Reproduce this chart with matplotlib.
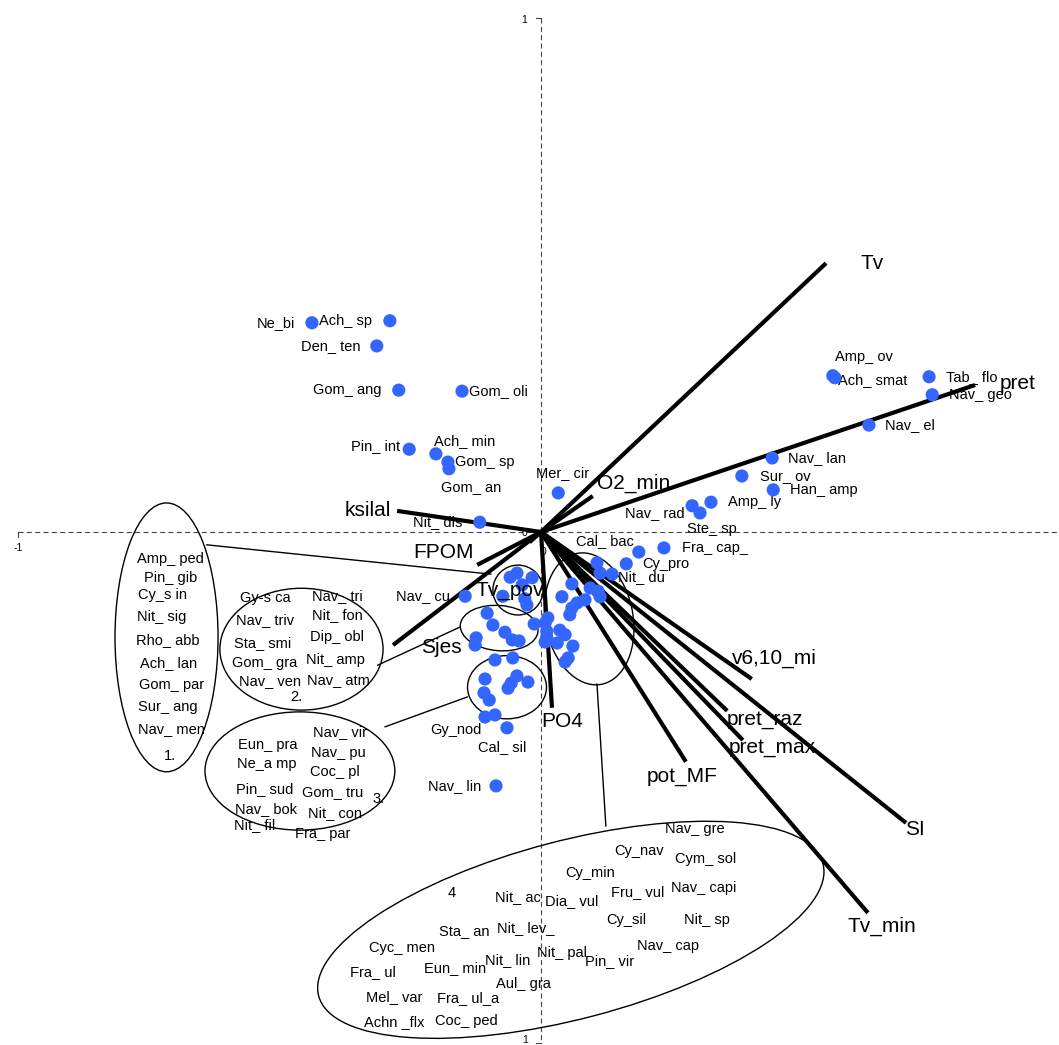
import matplotlib
matplotlib.use("Agg")
import matplotlib.pyplot as plt
from matplotlib.patches import Ellipse

plt.rcParams["font.family"] = ["Liberation Sans", "DejaVu Sans"]

# ---- environmental variables (arrow tips, CCA axis units) ----
env_names = ["Tv", "pret", "O2_min", "ksilal", "FPOM", "Tv_pov", "Sjes", "PO4",
             "pot_MF", "pret_raz", "pret_max", "v6,10_mi", "SI", "Tv_min"]
env_x = [0.545, 0.830, 0.099, -0.275, -0.122, -0.022, -0.283, 0.021,
         0.277, 0.356, 0.386, 0.403, 0.698, 0.625]
env_y = [0.523, 0.286, 0.070, 0.041, -0.064, -0.020, -0.220, -0.342,
         -0.447, -0.348, -0.405, -0.286, -0.566, -0.741]

# ---- labelled species scores ----
sp_names = ["Ne_bi", "Ach_ sp", "Den_ ten", "Gom_ ang", "Gom_ oli", "Pin_ int",
            "Ach_ min", "Gom_ sp", "Gom_ an", "Mer_ cir", "Nit_ dis", "Amp_ ov",
            "Ach_ smat", "Tab_ flo", "Nav_ geo", "Nav_ el", "Nav_ lan", "Sur_ ov",
            "Han_ amp", "Amp_ ly", "Nav_ rad", "Ste_ sp", "Fra_ cap_", "Cal_ bac",
            "Cy_pro", "Nit_ du", "Nav_ cu", "Gy_nod", "Cal_ sil", "Nav_ lin"]
sp_x = [-0.438, -0.289, -0.314, -0.272, -0.151, -0.252, -0.201, -0.178, -0.176,
        0.033, -0.117, 0.558, 0.562, 0.742, 0.748, 0.627, 0.442, 0.384, 0.444,
        0.325, 0.289, 0.304, 0.235, 0.187, 0.163, 0.136, -0.145, -0.107, -0.065,
        -0.086]
sp_y = [0.407, 0.411, 0.362, 0.276, 0.274, 0.161, 0.152, 0.136, 0.123, 0.076,
        0.019, 0.304, 0.300, 0.302, 0.267, 0.208, 0.144, 0.109, 0.082, 0.058,
        0.051, 0.037, -0.031, -0.039, -0.062, -0.082, -0.125, -0.360, -0.381,
        -0.494]

# ---- species scores in the central cluster (names listed in the ellipses) ----
cl_x = [-0.059, -0.046, -0.017, -0.036, -0.073, -0.031, -0.027,
        0.107, 0.113, 0.059, 0.094, 0.109, 0.113, 0.040, 0.084, 0.069, 0.059,
        0.055, 0.013, 0.008, -0.013, 0.011, 0.011, 0.008, 0.036, 0.046, 0.031,
        0.061, 0.052, 0.046,
        -0.103, -0.092, -0.069, -0.055, -0.042, -0.124, -0.126,
        -0.088, -0.054, -0.107, -0.046, -0.057, -0.063, -0.025, -0.109, -0.099,
        -0.088]
cl_y = [-0.088, -0.080, -0.089, -0.103, -0.125, -0.130, -0.142,
        -0.060, -0.080, -0.101, -0.109, -0.115, -0.126, -0.126, -0.132, -0.138,
        -0.148, -0.161, -0.167, -0.177, -0.179, -0.193, -0.204, -0.214, -0.191,
        -0.200, -0.216, -0.222, -0.245, -0.253,
        -0.158, -0.181, -0.195, -0.210, -0.212, -0.206, -0.220,
        -0.249, -0.245, -0.286, -0.280, -0.294, -0.304, -0.292, -0.313, -0.327,
        -0.356]

# ---- species groups written inside ellipses ----
grp1 = ["Amp_ ped", "Pin_ gib", "Cy_s in", "Nit_ sig", "Rho_ abb", "Ach_ lan",
        "Gom_ par", "Sur_ ang", "Nav_ men", "1."]
grp2 = ["Gy-s ca", "Nav_ triv", "Sta_ smi", "Gom_ gra", "Nav_ ven",
        "Nav_ tri", "Nit_ fon", "Dip_ obl", "Nit_ amp", "Nav_ atm", "2."]
grp3 = ["Eun_ pra", "Ne_a mp", "Pin_ sud", "Nav_ bok", "Nit_ fil",
        "Nav_ vir", "Nav_ pu", "Coc_ pl", "Gom_ tru", "Nit_ con", "Fra_ par", "3."]
grp4 = ["Nav_ gre", "Cy_nav", "Cym_ sol", "Cy_min", "Fru_ vul", "Nav_ capi", "4",
        "Nit_ ac", "Dia_ vul", "Cy_sil", "Nit_ sp", "Sta_ an", "Nit_ lev_",
        "Nav_ cap", "Cyc_ men", "Nit_ pal", "Pin_ vir", "Nit_ lin", "Eun_ min",
        "Fra_ ul", "Aul_ gra", "Mel_ var", "Fra_ ul_a", "Achn _flx", "Coc_ ped"]

# ---- layout ----
env_off = [(46, 0), (43, 1), (41, 13), (-29, 0), (-34, 12), (-20, -48), (48, -2),
           (10, -14), (-4, -15), (38, -9), (29, -7), (23, 21), (9, -7), (14, -14)]
sp_off = [(-36, 0), (-44, 0), (-46, 0), (-51, 0), (36, 0), (-34, 3), (29, 13),
          (37, 0), (22, -18), (4, 20), (-42, 0), (31, 19), (38, -2), (43, 0),
          (48, 0), (41, 0), (45, 0), (43, 0), (51, 0), (44, 0), (-37, -7),
          (12, -16), (51, 0), (-34, 11), (40, 0), (29, -3), (-42, 0), (-29, -13),
          (-5, -19), (-41, 0)]
grp1_pos = [(-0.709, -0.053), (-0.709, -0.089), (-0.723, -0.123), (-0.725, -0.165),
            (-0.713, -0.210), (-0.713, -0.255), (-0.706, -0.298), (-0.713, -0.340),
            (-0.706, -0.383), (-0.709, -0.436)]
grp2_pos = [(-0.528, -0.128), (-0.528, -0.171), (-0.532, -0.216), (-0.528, -0.255),
            (-0.518, -0.290), (-0.390, -0.125), (-0.390, -0.161), (-0.390, -0.204),
            (-0.394, -0.249), (-0.388, -0.288), (-0.467, -0.321)]
grp3_pos = [(-0.522, -0.414), (-0.524, -0.451), (-0.528, -0.500), (-0.526, -0.539),
            (-0.547, -0.570), (-0.384, -0.389), (-0.388, -0.430), (-0.394, -0.467),
            (-0.398, -0.506), (-0.394, -0.547), (-0.417, -0.588), (-0.310, -0.519)]
grp4_pos = [(0.294, -0.578), (0.187, -0.621), (0.315, -0.636), (0.094, -0.663),
            (0.184, -0.700), (0.312, -0.693), (-0.170, -0.702), (-0.044, -0.710),
            (0.059, -0.718), (0.163, -0.755), (0.317, -0.755), (-0.147, -0.776),
            (-0.029, -0.770), (0.243, -0.805), (-0.266, -0.809), (0.040, -0.819),
            (0.132, -0.835), (-0.063, -0.833), (-0.164, -0.848), (-0.321, -0.856),
            (-0.033, -0.879), (-0.281, -0.905), (-0.140, -0.907), (-0.281, -0.953),
            (-0.143, -0.951)]
# (centre x, centre y, width, height, angle)
ellipses = [(-0.716, -0.205, 0.197, 0.523, 0), (-0.458, -0.228, 0.312, 0.237, 0),
            (-0.461, -0.465, 0.363, 0.230, 0), (0.057, -0.774, 0.998, 0.346, 15),
            (0.092, -0.169, 0.168, 0.259, 10), (-0.044, -0.113, 0.096, 0.097, 0),
            (-0.080, -0.187, 0.149, 0.088, -5), (-0.065, -0.302, 0.151, 0.123, 0)]
connectors = [((-0.639, -0.025), (-0.096, -0.082)),
              ((-0.312, -0.259), (-0.155, -0.185)),
              ((-0.298, -0.379), (-0.141, -0.321)),
              ((0.124, -0.572), (0.107, -0.296))]

BLUE = "#3366FF"
SP_FS = 10.5
ENV_FS = 15

fig = plt.figure(figsize=(10.59, 10.45), dpi=100)
ax = fig.add_axes([0, 0, 1, 1])
ax.set_xlim(-1.0344, 0.9904)
ax.set_ylim(-0.9981, 1.0350)
ax.axis("off")

# dashed axes through the origin with end ticks
dash = dict(color="#444444", lw=0.8, dashes=(4.5, 3.0))
ax.plot([0, 0], [1.0, -0.995], **dash, zorder=1)
ax.plot([-1.0, 0.99], [0, 0], **dash, zorder=1)
tick = dict(color="#444444", lw=0.8, zorder=1)
ax.plot([-0.010, 0], [1.0, 1.0], **tick)
ax.plot([-0.010, 0], [-0.995, -0.995], **tick)
ax.plot([-1.0, -1.0], [0, -0.010], **tick)
tfs = 7.5
ax.text(-0.033, 0.996, "1", fontsize=tfs, ha="center", va="center")
ax.text(-0.031, -0.988, "1", fontsize=tfs, ha="center", va="center")
ax.text(-1.0, -0.031, "-1", fontsize=tfs, ha="center", va="center")
ax.text(-0.031, -0.002, "0", fontsize=tfs, ha="center", va="center")
ax.text(0.004, -0.039, "0", fontsize=tfs, ha="center", va="center")

# species names that sit under the arrows
for name, x, y, off in zip(sp_names, sp_x, sp_y, sp_off):
    ax.annotate(name, (x, y), xytext=off, textcoords="offset pixels",
                fontsize=SP_FS, ha="center", va="center", zorder=2.5)

# environmental arrows
for name, x, y, off in zip(env_names, env_x, env_y, env_off):
    ax.plot([0, x], [0, y], color="black", lw=3.0, solid_capstyle="butt", zorder=3)
    ax.annotate(name, (x, y), xytext=off, textcoords="offset pixels",
                fontsize=ENV_FS, ha="center", va="center", zorder=6)

# ellipses and connectors
for cx, cy, w, h, ang in ellipses:
    ax.add_patch(Ellipse((cx, cy), w, h, angle=ang, fill=False,
                         edgecolor="black", lw=1.0, zorder=2))
for (x0, y0), (x1, y1) in connectors:
    ax.plot([x0, x1], [y0, y1], color="black", lw=1.0, zorder=2)

# species points
ax.scatter(cl_x, cl_y, s=90, color=BLUE, edgecolors="none", zorder=4)
ax.scatter(sp_x, sp_y, s=90, color=BLUE, edgecolors="none", zorder=4)

# species names inside the group ellipses
for names, pos in [(grp1, grp1_pos), (grp2, grp2_pos), (grp3, grp3_pos), (grp4, grp4_pos)]:
    for name, (x, y) in zip(names, pos):
        ax.text(x, y, name, fontsize=SP_FS, ha="center", va="center", zorder=5)

fig.savefig("out.png", dpi=100, facecolor="white")
